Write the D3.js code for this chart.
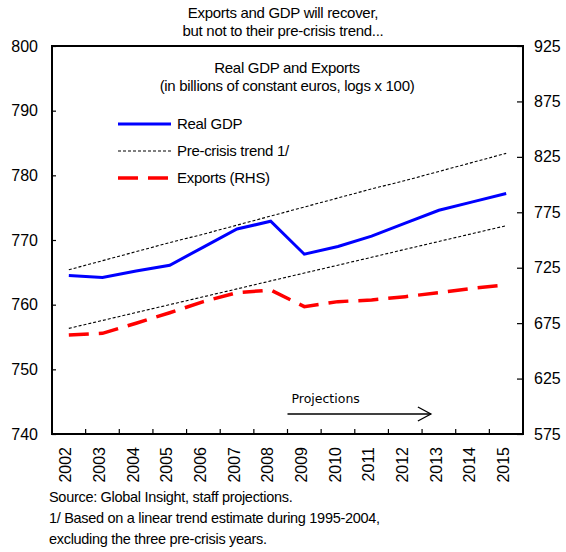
<!DOCTYPE html>
<html>
  <head>
    <meta charset="utf-8">
    <title>Real GDP and Exports</title>
    <script src="https://d3js.org/d3.v7.min.js"></script>
    <style>
      body { margin: 0; background: #fff; }
      text { font-family: "Liberation Sans", Arial, sans-serif; fill: #000; }
      .tick text { font-size: 16px; }
      .note { font-size: 14.5px; letter-spacing: -0.3px; }
    </style>
  </head>
  <body>
    <svg id="chart" width="566" height="552"></svg>
    <script>
      // data
      var years = ["2002", "2003", "2004", "2005", "2006", "2007", "2008",
                   "2009", "2010", "2011", "2012", "2013", "2014", "2015"];
      var realGdp = [764.5, 764.2, 765.2, 766.1, 768.9, 771.7, 772.9,
                     767.8, 769.0, 770.6, 772.6, 774.6, 775.9, 777.2];
      var gdpTrend = [765.4, 766.8, 768.2, 769.6, 770.9, 772.3, 773.7,
                      775.1, 776.5, 777.9, 779.2, 780.6, 782.0, 783.4];
      var exportsRhs = [664.3, 665.8, 674.9, 684.4, 694.4, 702.5, 704.9,
                        689.9, 694.4, 695.9, 698.9, 702.5, 706.4, 709.4];
      var exportsTrend = [670.3, 677.4, 684.6, 691.7, 698.8, 705.9, 713.1,
                          720.2, 727.3, 734.4, 741.6, 748.7, 755.8, 762.9];
      var leftTicks = [740, 750, 760, 770, 780, 790, 800];
      var rightTicks = [575, 625, 675, 725, 775, 825, 875, 925];

      var svg = d3.select("#chart");
      var pLeft = 52, pRight = 523, pTop = 46, pBottom = 434;

      var x = d3.scaleBand().domain(years).range([pLeft, pRight]);
      var yL = d3.scaleLinear().domain([740, 800]).range([pBottom, pTop]);
      var yR = d3.scaleLinear().domain([575, 925]).range([pBottom, pTop]);
      var cx = function(i) { return x(years[i]) + x.bandwidth() / 2; };

      // titles
      svg.append("text").attr("x", 283).attr("y", 18).attr("text-anchor", "middle")
        .attr("class", "note").style("font-size", "15px").text("Exports and GDP will recover,");
      svg.append("text").attr("x", 283).attr("y", 36).attr("text-anchor", "middle")
        .attr("class", "note").style("font-size", "15px").text("but not to their pre-crisis trend...");
      svg.append("text").attr("x", 287).attr("y", 73).attr("text-anchor", "middle")
        .attr("class", "note").style("font-size", "15px").text("Real GDP and Exports");
      svg.append("text").attr("x", 287).attr("y", 91).attr("text-anchor", "middle")
        .attr("class", "note").style("font-size", "15px").text("(in billions of constant euros, logs x 100)");

      // axes
      var gl = svg.append("g").attr("transform", "translate(" + pLeft + ",0)")
        .call(d3.axisRight(yL).tickValues(leftTicks).tickSize(4).tickFormat(d3.format("d")));
      gl.selectAll("text").attr("x", -14).attr("text-anchor", "end");
      var gr = svg.append("g").attr("transform", "translate(" + pRight + ",0)")
        .call(d3.axisLeft(yR).tickValues(rightTicks).tickSize(6).tickFormat(d3.format("d")));
      gr.selectAll("text").attr("x", 11).attr("text-anchor", "start");
      var gb = svg.append("g").attr("transform", "translate(0," + pBottom + ")")
        .call(d3.axisBottom(x).tickSize(0));
      gb.selectAll("text")
        .attr("transform", "rotate(-90)")
        .attr("x", -13).attr("y", -3).attr("dy", "0.35em")
        .attr("text-anchor", "end");
      // inner ticks at category boundaries
      gb.selectAll(".sep").data(years.slice(1)).enter().append("line")
        .attr("x1", function(d) { return x(d); }).attr("x2", function(d) { return x(d); })
        .attr("y1", 0).attr("y2", -5).attr("stroke", "#000").attr("stroke-width", 1.2);
      svg.selectAll(".domain").remove();
      svg.selectAll(".tick line").attr("stroke", "#000").attr("stroke-width", 1.2);

      // frame
      svg.append("rect").attr("x", pLeft).attr("y", pTop)
        .attr("width", pRight - pLeft).attr("height", pBottom - pTop)
        .attr("fill", "none").attr("stroke", "#000").attr("stroke-width", 2);

      // lines
      var lineL = d3.line().x(function(d, i) { return cx(i); }).y(function(d) { return yL(d); });
      var lineR = d3.line().x(function(d, i) { return cx(i); }).y(function(d) { return yR(d); });
      svg.append("path").datum(gdpTrend).attr("d", lineL)
        .attr("fill", "none").attr("stroke", "#000").attr("stroke-width", 1.1).attr("stroke-dasharray", "3,2");
      svg.append("path").datum(exportsTrend).attr("d", lineR)
        .attr("fill", "none").attr("stroke", "#000").attr("stroke-width", 1.1).attr("stroke-dasharray", "3,2");
      svg.append("path").datum(exportsRhs).attr("d", lineR)
        .attr("fill", "none").attr("stroke", "#ff0000").attr("stroke-width", 3.5).attr("stroke-dasharray", "20,10");
      svg.append("path").datum(realGdp).attr("d", lineL)
        .attr("fill", "none").attr("stroke", "#0000ff").attr("stroke-width", 3);

      // legend
      var legend = [
        { name: "Real GDP", color: "#0000ff", width: 3, dash: null },
        { name: "Pre-crisis trend 1/", color: "#000", width: 1.1, dash: "3,2" },
        { name: "Exports (RHS)", color: "#ff0000", width: 3.5, dash: "20,10" }
      ];
      var lg = svg.append("g").selectAll("g").data(legend).enter().append("g")
        .attr("transform", function(d, i) { return "translate(118," + (124 + i * 27) + ")"; });
      lg.append("line").attr("x1", 0).attr("x2", 53)
        .attr("stroke", function(d) { return d.color; })
        .attr("stroke-width", function(d) { return d.width; })
        .attr("stroke-dasharray", function(d) { return d.dash; });
      lg.append("text").attr("x", 59).attr("dy", "0.35em").attr("class", "note")
        .style("font-size", "15px")
        .text(function(d) { return d.name; });

      // projections arrow
      var ax0 = x("2009"), ax1 = cx(11) - 8, ay = 414;
      svg.append("text").attr("x", ax0 + 4).attr("y", 403)
        .style("font-family", "'DejaVu Sans', Verdana, sans-serif").style("font-size", "12.5px")
        .text("Projections");
      svg.append("line").attr("x1", ax0).attr("x2", ax1).attr("y1", ay).attr("y2", ay)
        .attr("stroke", "#000").attr("stroke-width", 1.3);
      svg.append("path")
        .attr("d", "M" + (ax1 - 13) + "," + (ay - 7) + "L" + ax1 + "," + ay + "L" + (ax1 - 13) + "," + (ay + 7))
        .attr("fill", "none").attr("stroke", "#000").attr("stroke-width", 1.3);

      // notes
      var notes = ["Source: Global Insight, staff projections.",
                   "1/ Based on a linear trend estimate during 1995-2004,",
                   "excluding the three pre-crisis years."];
      svg.selectAll(".foot").data(notes).enter().append("text")
        .attr("class", "note").attr("x", 49)
        .attr("y", function(d, i) { return 502 + i * 21; })
        .text(function(d) { return d; });
    </script>
  </body>
</html>
